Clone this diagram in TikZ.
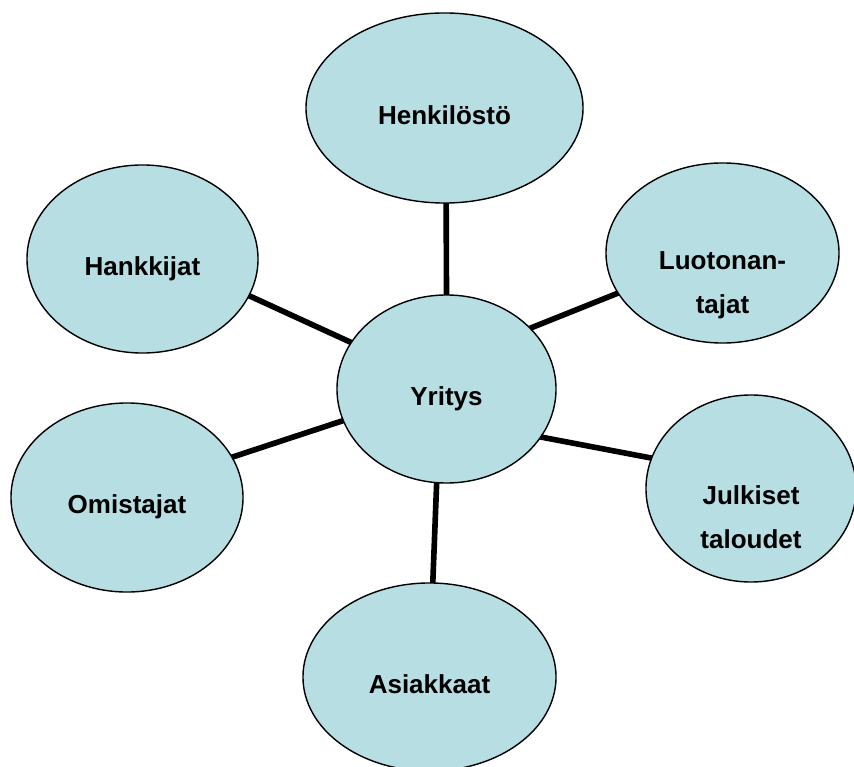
\documentclass[tikz,border=0pt]{standalone}
\usepackage{fontspec}
\setmainfont{Liberation Sans}
\usetikzlibrary{shapes.geometric}
\definecolor{bubble}{RGB}{183,222,227}
\tikzset{
  stakeholder/.style={ellipse,draw,fill=bubble,line width=1pt,inner sep=0mm,outer sep=0mm,
    font=\fontsize{18.5}{31.3}\selectfont\bfseries,align=center,text height=0.8cm,text depth=0cm},
  twoline/.style={text height=3cm,text depth=0cm},
  link/.style={line width=4pt}
}

\begin{document}
\begin{tikzpicture}[x=0.025cm,y=-0.025cm]
%\draw[help lines,step=50] (0,0) grid (854,767);
\useasboundingbox (0,0) rectangle (854,767);
\foreach \x/\y/\w/\h/\n/\t in {444.5/108/6.925/4.75/henkilosto/Henkilöstö, 142.5/259/5.775/4.7/hankkijat/Hankkijat,
    446.5/389/5.475/4.7/yritys/Yritys, 127/497.5/5.8/4.725/omistajat/Omistajat, 429.5/677/6.325/4.7/asiakkaat/Asiakkaat}
  \node[stakeholder,minimum width=\w cm,minimum height=\h cm] (\n) at (\x,\y) {\t};
\foreach \x/\y/\w/\h/\n/\t in {722.5/253/5.825/4.5/luotonantajat/{Luotonan-\\tajat}, 751/488.5/5.25/4.675/julkiset/{Julkiset\\taloudet}}
  \node[stakeholder,twoline,minimum width=\w cm,minimum height=\h cm] (\n) at (\x,\y) {\t};
\foreach \s/\t in {henkilosto.-89/yritys.90, hankkijat.-19/yritys.154, luotonantajat.-159.5/yritys.36,
    omistajat.21/yritys.-163, julkiset.163.6/yritys.-27.2, asiakkaat.88.5/yritys.-96}
  \draw[link] (\s) -- (\t);
\end{tikzpicture}
\end{document}
